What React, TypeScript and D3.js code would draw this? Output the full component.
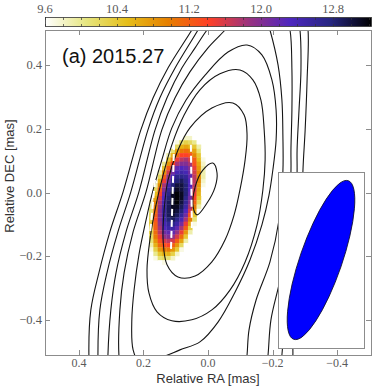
import React, { useEffect, useRef } from 'react';
import * as d3 from 'd3';

// axes
const raLimits = [0.505, -0.505];
const decLimits = [-0.508, 0.508];
const raTicks = [0.4, 0.2, 0.0, -0.2, -0.4];
const decTicks = [0.4, 0.2, 0.0, -0.2, -0.4];
const epochLabel = '(a) 2015.27';

// colour bar
const cbarLimits = [9.6, 13.22];
const cbarLabels = [9.6, 10.4, 11.2, 12.0, 12.8];
const cbarTicks = [9.6, 9.8, 10.0, 10.2, 10.4, 10.6, 10.8, 11.0, 11.2, 11.4, 11.6, 11.8, 12.0, 12.2, 12.4, 12.6, 12.8, 13.0, 13.2];
// CMRmap reversed
const cmapStops = [0, 0.125, 0.25, 0.375, 0.5, 0.625, 0.75, 0.875, 1];
const cmapColors = ['#ffffff', '#e6e680', '#e6bf1a', '#e68000', '#ff4026', '#993380', '#4d26bf', '#262680', '#000000'];

// colour map pixels (row by row, from the top; first column given per row)
const heatRa0 = 0.1828;
const heatDec0 = 0.1768;
const heatCell = 0.0134;
const heatRowStart = [7, 6, 5, 4, 4, 3, 3, 2, 2, 2, 1, 1, 1, 1, 0, 0, 0, 0, 0, 0, 0, 0, 0, 0, 0, 0, 0, 0, 1, 2];
const heatRows = [
  [9.6, 9.8, 9.8, 9.6],
  [9.7, 10.1, 10.3, 10.2, 10.0, 9.6],
  [9.6, 10.2, 10.6, 10.7, 10.6, 10.4, 9.9],
  [9.6, 10.1, 10.7, 11.0, 11.1, 11.0, 10.7, 10.1, 9.6],
  [9.9, 10.6, 11.1, 11.4, 11.4, 11.3, 10.9, 10.4, 9.6],
  [9.6, 10.4, 11.0, 11.5, 11.7, 11.8, 11.6, 11.2, 10.5, 9.7],
  [10.0, 10.8, 11.4, 11.8, 12.0, 12.0, 11.8, 11.3, 10.7, 9.8],
  [9.6, 10.4, 11.2, 11.8, 12.2, 12.3, 12.2, 12.0, 11.5, 10.8, 9.9],
  [9.9, 10.8, 11.6, 12.1, 12.4, 12.5, 12.4, 12.1, 11.6, 10.9, 9.9],
  [10.2, 11.2, 11.9, 12.4, 12.7, 12.7, 12.6, 12.2, 11.7, 10.9, 9.9],
  [9.6, 10.6, 11.5, 12.1, 12.6, 12.8, 12.9, 12.7, 12.3, 11.7, 10.9, 9.8],
  [9.9, 10.9, 11.8, 12.4, 12.8, 13.0, 13.0, 12.8, 12.3, 11.7, 10.8, 9.7],
  [10.2, 11.2, 12.0, 12.6, 12.9, 13.1, 13.0, 12.8, 12.3, 11.6, 10.7, 9.6],
  [10.5, 11.4, 12.2, 12.7, 13.1, 13.2, 13.1, 12.8, 12.2, 11.5, 10.6, 9.6],
  [9.6, 10.7, 11.6, 12.3, 12.8, 13.1, 13.2, 13.1, 12.7, 12.1, 11.4, 10.4],
  [9.8, 10.9, 11.8, 12.4, 12.9, 13.1, 13.2, 13.0, 12.6, 12.0, 11.2, 10.2],
  [10.0, 11.0, 11.9, 12.5, 12.9, 13.1, 13.1, 12.9, 12.5, 11.8, 11.0, 9.9],
  [10.1, 11.1, 12.0, 12.5, 12.9, 13.1, 13.0, 12.8, 12.3, 11.6, 10.7, 9.6],
  [10.2, 11.2, 12.0, 12.5, 12.9, 13.0, 12.9, 12.6, 12.1, 11.3, 10.4],
  [10.3, 11.3, 12.0, 12.5, 12.8, 12.9, 12.7, 12.4, 11.8, 11.0, 10.1],
  [10.4, 11.2, 11.9, 12.4, 12.6, 12.7, 12.5, 12.1, 11.5, 10.7, 9.7],
  [10.3, 11.2, 11.8, 12.3, 12.5, 12.5, 12.2, 11.8, 11.2, 10.3],
  [10.3, 11.1, 11.7, 12.1, 12.2, 12.2, 11.9, 11.5, 10.8, 9.9],
  [10.2, 11.0, 11.5, 11.9, 12.0, 11.9, 11.6, 11.1, 10.4, 9.6],
  [10.1, 10.8, 11.3, 11.6, 11.7, 11.6, 11.2, 10.7, 9.9],
  [9.9, 10.6, 11.1, 11.3, 11.4, 11.2, 10.8, 10.2, 9.6],
  [9.7, 10.3, 10.8, 11.0, 11.0, 10.8, 10.4, 9.7],
  [9.6, 10.0, 10.4, 10.6, 10.6, 10.3, 9.8],
  [9.7, 10.1, 10.2, 10.1, 9.8],
  [9.6, 9.7, 9.6],
];

// total intensity contours, [RA, DEC] in mas, innermost first
const contours = [
  [[-0.015, 0.092], [-0.028, 0.061], [-0.022, 0.017], [0.003, -0.033], [0.034, -0.070], [0.046, -0.045], [0.040, 0.017], [0.016, 0.070]],
  [[-0.077, 0.280], [-0.112, 0.242], [-0.121, 0.180], [-0.115, 0.102], [-0.099, 0.008], [-0.081, -0.070], [-0.053, -0.148], [-0.012, -0.217], [0.040, -0.261], [0.093, -0.264], [0.127, -0.226], [0.139, -0.148], [0.136, -0.055], [0.124, 0.039], [0.093, 0.133], [0.056, 0.202], [-0.012, 0.264]],
  [[-0.099, 0.383], [-0.139, 0.352], [-0.164, 0.289], [-0.174, 0.196], [-0.177, 0.102], [-0.170, 0.008], [-0.152, -0.101], [-0.115, -0.217], [-0.068, -0.305], [-0.012, -0.367], [0.050, -0.398], [0.112, -0.401], [0.158, -0.373], [0.183, -0.314], [0.189, -0.242], [0.180, -0.148], [0.161, -0.039], [0.139, 0.055], [0.112, 0.149], [0.074, 0.242], [0.025, 0.321], [-0.037, 0.371]],
  [[-0.121, 0.461], [-0.167, 0.430], [-0.198, 0.352], [-0.211, 0.258], [-0.211, 0.164], [-0.201, 0.071], [-0.189, -0.008], [-0.167, -0.101], [-0.130, -0.211], [-0.084, -0.311], [-0.031, -0.405], [0.025, -0.467], [0.087, -0.492], [0.149, -0.517], [0.211, -0.533], [0.232, -0.492], [0.236, -0.398], [0.229, -0.305], [0.214, -0.195], [0.192, -0.086], [0.170, 0.008], [0.143, 0.102], [0.112, 0.202], [0.068, 0.289], [0.009, 0.367], [-0.062, 0.439]],
  [[-0.146, 0.586], [-0.177, 0.555], [-0.192, 0.508], [-0.217, 0.399], [-0.229, 0.289], [-0.232, 0.180], [-0.232, 0.064], [-0.220, -0.086], [-0.192, -0.217], [-0.149, -0.336], [-0.127, -0.430], [-0.121, -0.508], [-0.108, -0.648], [-0.053, -0.773], [0.056, -0.820], [0.180, -0.773], [0.257, -0.648], [0.276, -0.508], [0.273, -0.367], [0.260, -0.251], [0.232, -0.123], [0.192, 0.002], [0.143, 0.196], [0.102, 0.296], [0.056, 0.377], [0.000, 0.452], [-0.053, 0.508], [-0.099, 0.564]],
  [[-0.053, 0.577], [-0.130, 0.627], [-0.198, 0.602], [-0.239, 0.555], [-0.254, 0.508], [-0.260, 0.383], [-0.260, 0.258], [-0.257, 0.133], [-0.257, 0.064], [-0.248, -0.117], [-0.223, -0.273], [-0.195, -0.398], [-0.186, -0.508], [-0.170, -0.664], [-0.099, -0.820], [0.040, -0.883], [0.180, -0.842], [0.273, -0.726], [0.310, -0.586], [0.310, -0.508], [0.301, -0.367], [0.285, -0.251], [0.254, -0.123], [0.214, 0.002], [0.164, 0.196], [0.127, 0.296], [0.081, 0.389], [0.040, 0.452], [0.003, 0.508]],
  [[-0.022, 0.602], [-0.130, 0.680], [-0.223, 0.649], [-0.273, 0.571], [-0.285, 0.508], [-0.288, 0.383], [-0.282, 0.258], [-0.276, 0.133], [-0.276, 0.064], [-0.270, -0.148], [-0.251, -0.336], [-0.235, -0.445], [-0.229, -0.508], [-0.217, -0.680], [-0.146, -0.851], [-0.006, -0.930], [0.149, -0.898], [0.273, -0.805], [0.335, -0.648], [0.341, -0.508], [0.335, -0.367], [0.313, -0.251], [0.279, -0.123], [0.239, 0.002], [0.186, 0.196], [0.149, 0.296], [0.102, 0.389], [0.031, 0.508]],
  [[-0.006, 0.602], [-0.130, 0.711], [-0.254, 0.680], [-0.297, 0.586], [-0.310, 0.508], [-0.307, 0.352], [-0.301, 0.196], [-0.294, 0.064], [-0.291, -0.148], [-0.276, -0.336], [-0.263, -0.461], [-0.263, -0.508], [-0.254, -0.695], [-0.177, -0.883], [-0.022, -0.976], [0.149, -0.945], [0.304, -0.836], [0.359, -0.664], [0.369, -0.508], [0.363, -0.367], [0.338, -0.251], [0.304, -0.123], [0.263, 0.002], [0.208, 0.196], [0.170, 0.296], [0.124, 0.389], [0.050, 0.508]],
];

// white dashed lines over the colour map
const ridgeLines = [
  [[0.164, 0.039], [0.180, -0.133]],
  [[0.105, 0.155], [0.115, -0.189]],
  [[0.053, 0.149], [0.050, -0.111]],
];

// restoring beam (inset)
const beamMajor = 1.95;
const beamMinor = 0.49;
const beamPa = -19;
const insetRaLimits = [0.5, -0.5];
const insetDecLimits = [-1.023, 1.023];

const W = 374;
const H = 387;
const frame = { left: 45, right: 371, top: 30, bottom: 355 };
const inset = { left: 278, right: 364, top: 172, bottom: 348 };
const cbar = { top: 17, bottom: 26 };

const serif = '"Liberation Serif", "DejaVu Serif", serif';
const sans = '"Liberation Sans", Arial, sans-serif';

const App = () => {
  const svgRef = useRef<SVGSVGElement>(null);

  useEffect(() => {
    const svg = d3.select(svgRef.current);
    svg.selectAll('*').remove();

    const x = d3.scaleLinear().domain(raLimits).range([frame.left, frame.right]);
    const y = d3.scaleLinear().domain(decLimits).range([frame.bottom, frame.top]);
    const span = cbarLimits[1] - cbarLimits[0];
    const cmap = d3.scaleLinear<string>()
      .domain(cmapStops.map(t => cbarLimits[0] + t * span))
      .range(cmapColors)
      .interpolate(d3.interpolateRgb)
      .clamp(true);
    const fmt = d3.format('.1f');

    const defs = svg.append('defs');
    defs.append('clipPath').attr('id', 'plot-clip')
      .append('rect')
      .attr('x', frame.left).attr('y', frame.top)
      .attr('width', frame.right - frame.left).attr('height', frame.bottom - frame.top);

    const grad = defs.append('linearGradient').attr('id', 'cbar-grad')
      .attr('x1', '0%').attr('x2', '100%').attr('y1', '0%').attr('y2', '0%');
    cmapStops.forEach((t, i) => {
      grad.append('stop').attr('offset', t).attr('stop-color', cmapColors[i]);
    });

    const plot = svg.append('g').attr('clip-path', 'url(#plot-clip)');

    // colour map pixels
    const cells = heatRows.flatMap((row, r) => row.map((v, i) => ({ r, c: heatRowStart[r] + i, v })));
    plot.selectAll('rect.cell')
      .data(cells)
      .join('rect')
      .attr('class', 'cell')
      .attr('x', d => x(heatRa0 - d.c * heatCell))
      .attr('y', d => y(heatDec0 - d.r * heatCell))
      .attr('width', d => x(heatRa0 - (d.c + 1) * heatCell) - x(heatRa0 - d.c * heatCell) + 0.3)
      .attr('height', d => y(heatDec0 - (d.r + 1) * heatCell) - y(heatDec0 - d.r * heatCell) + 0.3)
      .attr('fill', d => cmap(d.v));

    // contours
    const contourLine = d3.line<number[]>()
      .x(d => x(d[0]))
      .y(d => y(d[1]))
      .curve(d3.curveCatmullRomClosed.alpha(0.5));
    plot.selectAll('path.contour')
      .data(contours)
      .join('path')
      .attr('class', 'contour')
      .attr('d', d => contourLine(d))
      .attr('fill', 'none')
      .attr('stroke', '#151515')
      .attr('stroke-width', 1.1);

    // dashed lines
    const straight = d3.line<number[]>().x(d => x(d[0])).y(d => y(d[1]));
    plot.selectAll('path.ridge')
      .data(ridgeLines)
      .join('path')
      .attr('class', 'ridge')
      .attr('d', d => straight(d))
      .attr('fill', 'none')
      .attr('stroke', '#ffffff')
      .attr('stroke-width', 2)
      .attr('stroke-dasharray', '7,4');

    // beam inset
    const ix = d3.scaleLinear().domain(insetRaLimits).range([inset.left, inset.right]);
    const iy = d3.scaleLinear().domain(insetDecLimits).range([inset.bottom, inset.top]);
    svg.append('rect')
      .attr('x', inset.left + 0.5).attr('y', inset.top + 0.5)
      .attr('width', inset.right - inset.left).attr('height', inset.bottom - inset.top)
      .attr('fill', '#ffffff').attr('stroke', '#8c8c8c').attr('stroke-width', 1);
    const bx = ix(0);
    const by = iy(0);
    svg.append('ellipse')
      .attr('cx', bx).attr('cy', by)
      .attr('rx', Math.abs(ix(beamMinor / 2) - ix(0)))
      .attr('ry', Math.abs(iy(beamMajor / 2) - iy(0)))
      .attr('transform', `rotate(${-beamPa},${bx},${by})`)
      .attr('fill', '#0000ff').attr('stroke', '#101030').attr('stroke-width', 0.8);

    // frame and ticks
    const axisCol = '#8c8c8c';
    svg.append('rect')
      .attr('x', frame.left + 0.5).attr('y', frame.top + 0.5)
      .attr('width', frame.right - frame.left).attr('height', frame.bottom - frame.top)
      .attr('fill', 'none').attr('stroke', axisCol).attr('stroke-width', 1);
    const tl = 5;
    const ticks = svg.append('g').attr('stroke', axisCol).attr('stroke-width', 1);
    raTicks.forEach(t => {
      const px = Math.round(x(t)) + 0.5;
      ticks.append('line').attr('x1', px).attr('x2', px).attr('y1', frame.bottom).attr('y2', frame.bottom - tl);
      ticks.append('line').attr('x1', px).attr('x2', px).attr('y1', frame.top).attr('y2', frame.top + tl);
    });
    decTicks.forEach(t => {
      const py = Math.round(y(t)) + 0.5;
      ticks.append('line').attr('x1', frame.left).attr('x2', frame.left + tl).attr('y1', py).attr('y2', py);
      ticks.append('line').attr('x1', frame.right).attr('x2', frame.right - tl).attr('y1', py).attr('y2', py);
    });

    const labCol = '#5a5a5a';
    svg.append('g').selectAll('text')
      .data(raTicks)
      .join('text')
      .attr('x', d => x(d))
      .attr('y', 366.5)
      .attr('text-anchor', 'middle')
      .attr('font-family', serif).attr('font-size', 12).attr('fill', labCol)
      .text(d => fmt(d));
    svg.append('g').selectAll('text')
      .data(decTicks)
      .join('text')
      .attr('x', frame.left - 3)
      .attr('y', d => y(d) + 4)
      .attr('text-anchor', 'end')
      .attr('font-family', serif).attr('font-size', 12.5).attr('fill', labCol)
      .text(d => fmt(d));

    svg.append('text')
      .attr('x', (frame.left + frame.right) / 2).attr('y', 382.5)
      .attr('text-anchor', 'middle')
      .attr('font-family', sans).attr('font-size', 13).attr('fill', '#333')
      .text('Relative RA [mas]');
    svg.append('text')
      .attr('transform', 'translate(14,176) rotate(-90)')
      .attr('text-anchor', 'middle')
      .attr('font-family', sans).attr('font-size', 13).attr('fill', '#333')
      .text('Relative DEC [mas]');

    svg.append('text')
      .attr('x', 62).attr('y', 63)
      .attr('font-family', sans).attr('font-size', 20).attr('fill', '#111')
      .text(epochLabel);

    // colour bar
    const cx = d3.scaleLinear().domain(cbarLimits).range([frame.left, frame.right]);
    svg.append('rect')
      .attr('x', cx(cbarLimits[0]) + 0.5).attr('y', cbar.top + 0.5)
      .attr('width', cx(cbarLimits[1]) - cx(cbarLimits[0])).attr('height', cbar.bottom - cbar.top)
      .attr('fill', 'url(#cbar-grad)').attr('stroke', '#333').attr('stroke-width', 0.8);
    const cticks = svg.append('g').attr('stroke', '#333').attr('stroke-width', 0.7);
    cbarTicks.forEach(t => {
      const px = Math.round(cx(t)) + 0.5;
      cticks.append('line').attr('x1', px).attr('x2', px).attr('y1', cbar.top + 0.5).attr('y2', cbar.top + 3);
      cticks.append('line').attr('x1', px).attr('x2', px).attr('y1', cbar.bottom + 0.5).attr('y2', cbar.bottom - 2);
    });
    svg.append('g').selectAll('text')
      .data(cbarLabels)
      .join('text')
      .attr('x', d => cx(d))
      .attr('y', 13)
      .attr('text-anchor', 'middle')
      .attr('font-family', serif).attr('font-size', 12.5).attr('fill', labCol)
      .text(d => fmt(d));
  }, []);

  return (
    <svg
      ref={svgRef}
      width={W}
      height={H}
      style={{ position: 'absolute', left: 0, top: 0, background: '#fff' }}
    />
  );
};

export default App;
